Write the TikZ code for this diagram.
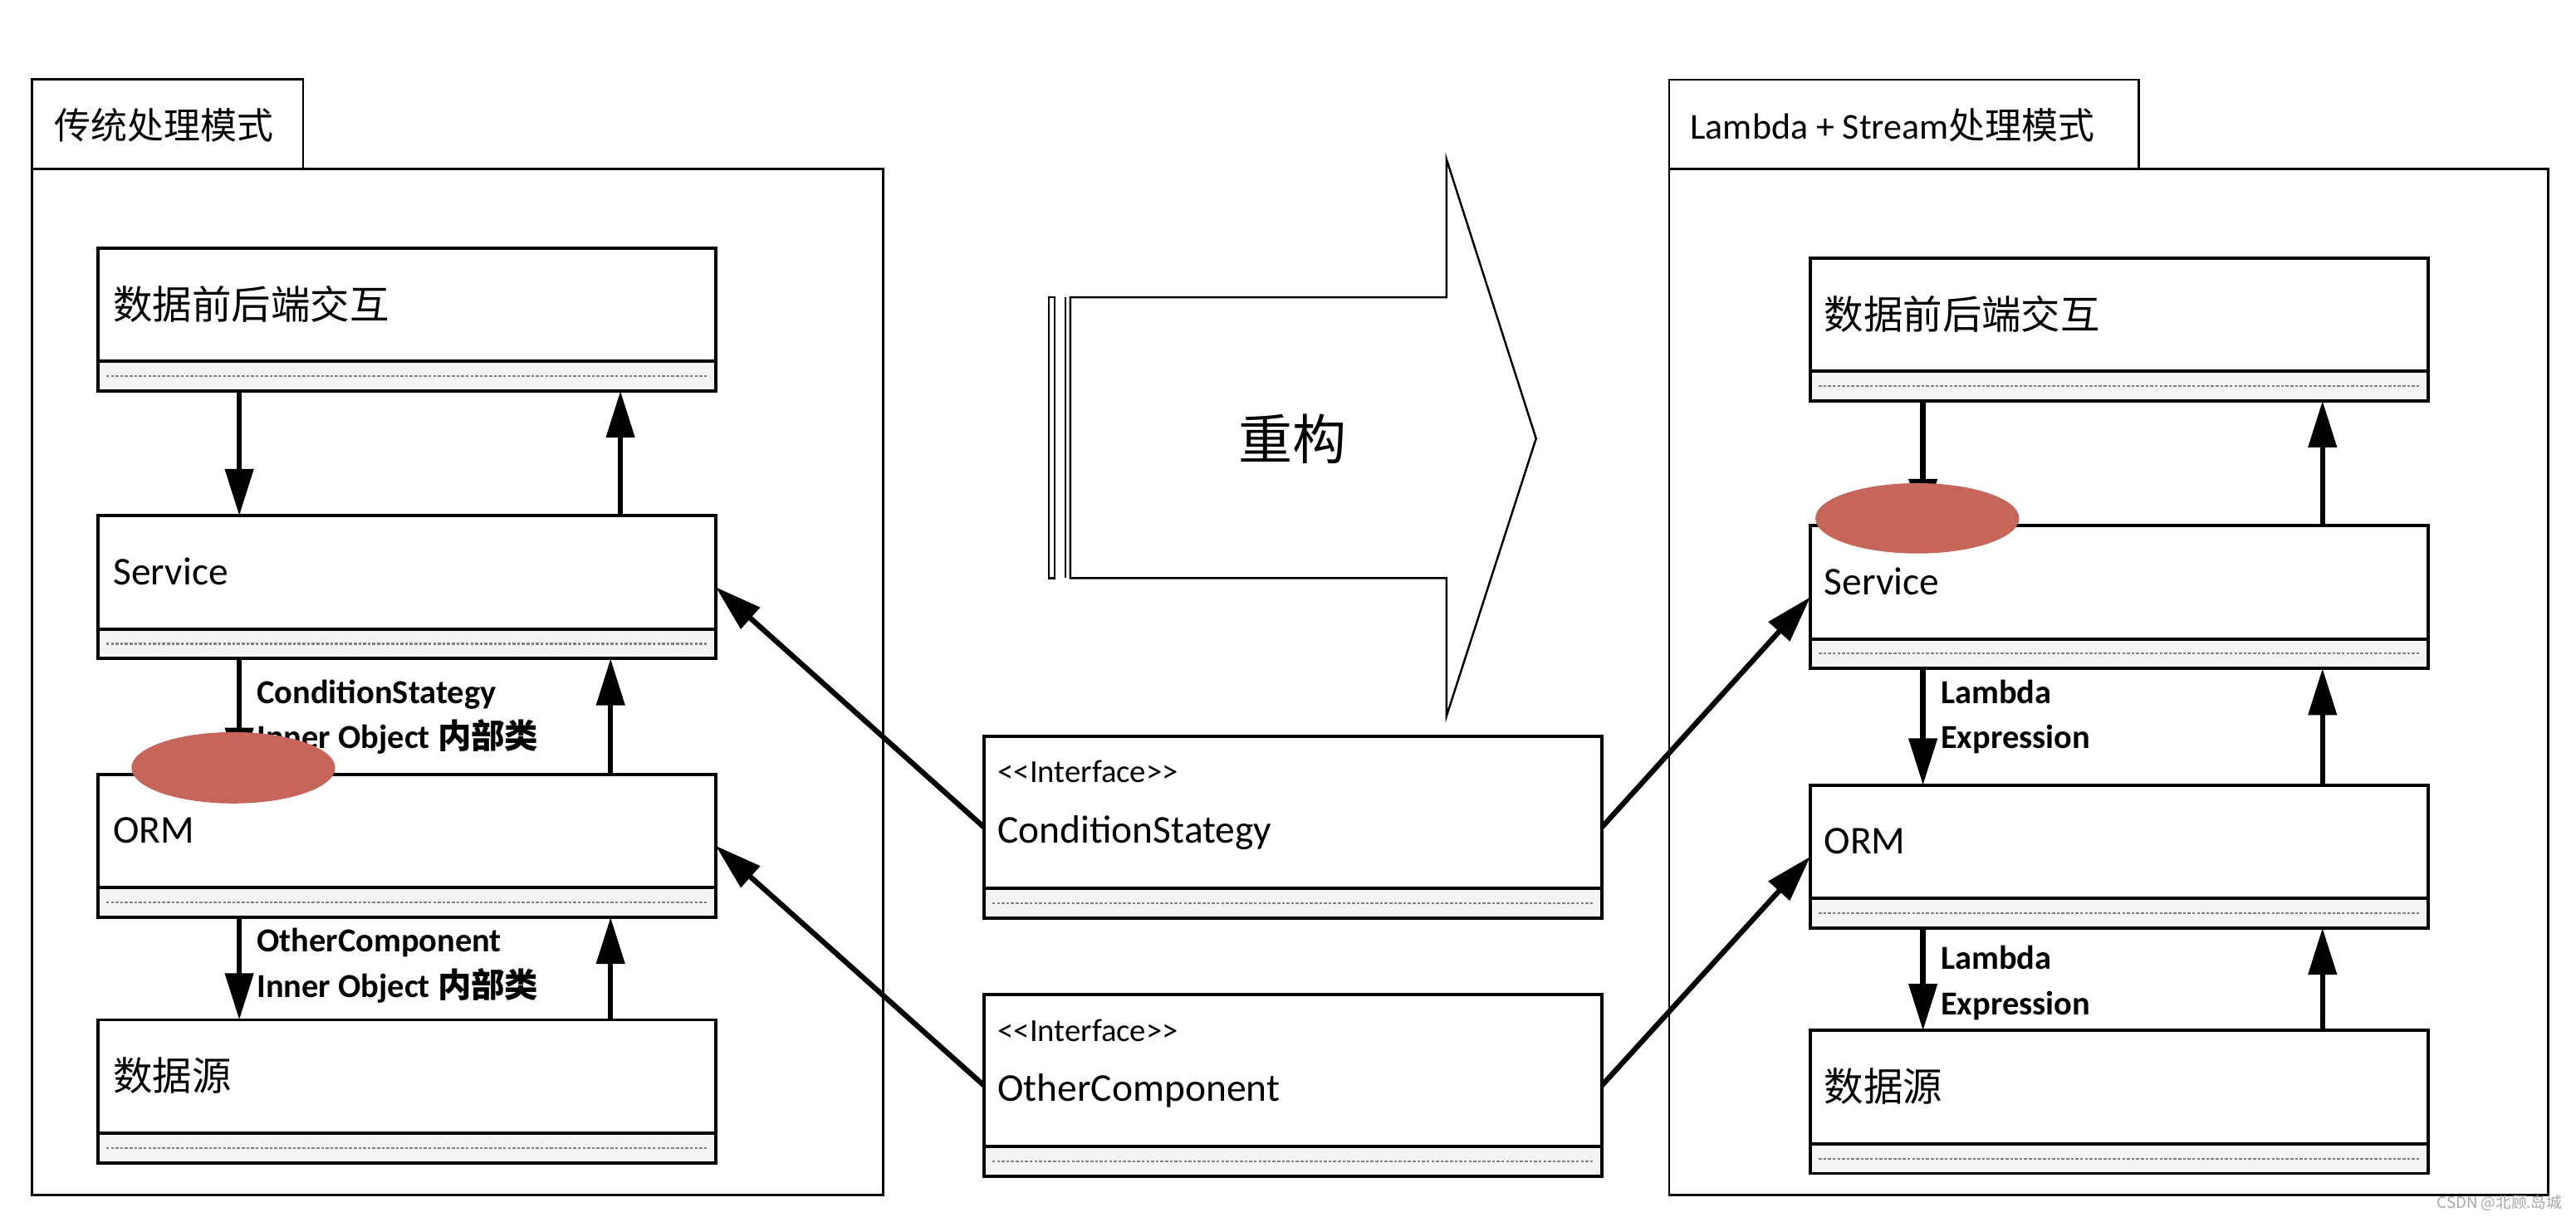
\documentclass[tikz,border=0pt]{standalone}
\usepackage{fontspec}
\setmainfont{Carlito}
\newfontfamily\cjk{Noto Sans CJK SC}
\usetikzlibrary{arrows.meta}
\newlength\pxu
\setlength\pxu{0.1978mm}
\definecolor{blotred}{RGB}{198,102,90}
\tikzset{
  umlbox/.style={draw, line width=1.1pt, minimum width=376\pxu, minimum height=87\pxu, inner sep=0pt, outer sep=0pt},
  ifacebox/.style={umlbox, minimum height=110.5\pxu},
  boxtext/.style={anchor=west, inner sep=0pt, font=\fontsize{13.5}{16}\selectfont},
  cjktext/.style={boxtext, font=\fontsize{13.5}{16}\selectfont\cjk},
  stereo/.style={anchor=west, inner sep=0pt, font=\fontsize{11}{13}\selectfont},
  tabtext/.style={anchor=west, inner sep=0pt, font=\fontsize{12.5}{15}\selectfont},
  flowlabel/.style={anchor=west, inner sep=0pt, align=left, font=\bfseries\fontsize{11.5}{15.5}\selectfont},
  flow/.style={-{Triangle[length=16pt,width=9.5pt]}, line width=1.8pt},
  pkgline/.style={line width=0.8pt},
  stripfill/.style={fill=gray!9},
  dotline/.style={gray, line width=0.6pt, dash pattern=on 1pt off 0.6pt}
}

\begin{document}
\begin{tikzpicture}[x=0.1978mm, y=-0.1978mm]
\useasboundingbox (0,0) rectangle (1568,741);
%% packages
\draw[pkgline] (19.5,48.4) rectangle (184.5,102.7);
\draw[pkgline] (19.5,102.7) rectangle (537.5,727.6);
\node[tabtext] (ltab) at (32.7,76) {\cjk 传统处理模式};
\draw[pkgline] (1016,48.5) rectangle (1302,103);
\draw[pkgline] (1016,103) rectangle (1551,727.6);
\node[tabtext] (rtab) at (1028.5,76) {Lambda + Stream{\cjk 处理模式}};

%% big arrow
\draw[line width=0.7pt] (651.5,181) -- (880.5,181) -- (880.5,97) -- (935,267)
  -- (880.5,436) -- (880.5,352) -- (651.5,352) -- cycle;
\draw[line width=0.7pt] (638.5,181) rectangle (642,352);
\draw[line width=0.7pt] (648.4,181) -- (648.4,352);
\node[font=\fontsize{18.5}{20}\selectfont\cjk] (refactor) at (787,267.5) {重构};

%% nodes
\node[umlbox] (lfe) at (247.65,194.5) {};
\node[umlbox] (lsvc) at (247.65,357.5) {};
\node[umlbox] (lorm) at (247.65,515) {};
\node[umlbox] (lds) at (247.65,664.5) {};
\node[ifacebox] (mcond) at (787,503.75) {};
\node[ifacebox] (mother) at (787,661) {};
\node[umlbox] (rfe) at (1290,200.5) {};
\node[umlbox] (rsvc) at (1290,363.5) {};
\node[umlbox] (rorm) at (1290,521.5) {};
\node[umlbox] (rds) at (1290,671) {};

\foreach \b in {lfe,lsvc,lorm,lds,mcond,mother,rfe,rsvc,rorm,rds}{
  \fill[stripfill] ([shift={(1\pxu,1\pxu)}]\b.south west) rectangle ([shift={(-1\pxu,18\pxu)}]\b.south east);
  \draw[line width=1.1pt] ([yshift=18\pxu]\b.south west) -- ([yshift=18\pxu]\b.south east);
  \draw[dotline] ([shift={(5\pxu,9\pxu)}]\b.south west) -- ([shift={(-5\pxu,9\pxu)}]\b.south east);
}

\node[cjktext] (lfe-t) at ([shift={(9\pxu,-34\pxu)}]lfe.north west) {数据前后端交互};
\node[boxtext] (lsvc-t) at ([shift={(9\pxu,-34\pxu)}]lsvc.north west) {Service};
\node[boxtext] (lorm-t) at ([shift={(9\pxu,-34\pxu)}]lorm.north west) {ORM};
\node[cjktext] (lds-t) at ([shift={(9\pxu,-34\pxu)}]lds.north west) {数据源};
\node[stereo] (mcond-s) at ([shift={(8\pxu,-21.5\pxu)}]mcond.north west) {\textless\kern0pt\textless\kern0pt Interface\kern0pt\textgreater\kern0pt\textgreater};
\node[boxtext] (mcond-t) at ([shift={(8\pxu,-58.5\pxu)}]mcond.north west) {ConditionStategy};
\node[stereo] (mother-s) at ([shift={(8\pxu,-21.5\pxu)}]mother.north west) {\textless\kern0pt\textless\kern0pt Interface\kern0pt\textgreater\kern0pt\textgreater};
\node[boxtext] (mother-t) at ([shift={(8\pxu,-58.5\pxu)}]mother.north west) {OtherComponent};
\node[cjktext] (rfe-t) at ([shift={(8\pxu,-34\pxu)}]rfe.north west) {数据前后端交互};
\node[boxtext] (rsvc-t) at ([shift={(8\pxu,-34\pxu)}]rsvc.north west) {Service};
\node[boxtext] (rorm-t) at ([shift={(8\pxu,-34\pxu)}]rorm.north west) {ORM};
\node[cjktext] (rds-t) at ([shift={(8\pxu,-34\pxu)}]rds.north west) {数据源};

\node[flowlabel] (lsvc-l) at (156,436.5) {ConditionStategy\\Inner Object {\cjk 内部类}};
\node[flowlabel] (lorm-l) at (156,588) {OtherComponent\\Inner Object {\cjk 内部类}};
\node[flowlabel] (rsvc-l) at (1181,436.5) {Lambda\\Expression};
\node[flowlabel] (rorm-l) at (1181,598.5) {Lambda\\Expression};

%%% edges
\draw[flow] ([xshift=-102\pxu]lfe.south) -- ([xshift=-102\pxu]lsvc.north);
\draw[flow] ([xshift=130\pxu]lsvc.north) -- ([xshift=130\pxu]lfe.south);
\draw[flow] ([xshift=-102\pxu]lsvc.south) -- ([xshift=-102\pxu]lorm.north);
\draw[flow] ([xshift=124\pxu]lorm.north) -- ([xshift=124\pxu]lsvc.south);
\draw[flow] ([xshift=-102\pxu]lorm.south) -- ([xshift=-102\pxu]lds.north);
\draw[flow] ([xshift=124\pxu]lds.north) -- ([xshift=124\pxu]lorm.south);

\draw[flow] ([xshift=-119.5\pxu]rfe.south) -- ([xshift=-119.5\pxu]rsvc.north);
\draw[flow] ([xshift=123.7\pxu]rsvc.north) -- ([xshift=123.7\pxu]rfe.south);
\draw[flow] ([xshift=-119.5\pxu]rsvc.south) -- ([xshift=-119.5\pxu]rorm.north);
\draw[flow] ([xshift=123.7\pxu]rorm.north) -- ([xshift=123.7\pxu]rsvc.south);
\draw[flow] ([xshift=-119.5\pxu]rorm.south) -- ([xshift=-119.5\pxu]rds.north);
\draw[flow] ([xshift=123.7\pxu]rds.north) -- ([xshift=123.7\pxu]rorm.south);

\draw[flow] (mcond.west) -- (lsvc.east);
\draw[flow] (mother.west) -- (lorm.east);
\draw[flow] (mcond.east) -- (rsvc.west);
\draw[flow] (mother.east) -- (rorm.west);

% marks
\fill[blotred] (142,467.5) ellipse [x radius=62\pxu, y radius=21.7\pxu];
\fill[blotred] (1167,315.6) ellipse [x radius=62\pxu, y radius=21.4\pxu];

\node[gray!70, inner sep=0pt, font=\fontsize{5.3}{6}\selectfont\cjk] (csdn) at (1521.5,732.5) {CSDN @北顾.岛城};
\end{tikzpicture}
\end{document}
